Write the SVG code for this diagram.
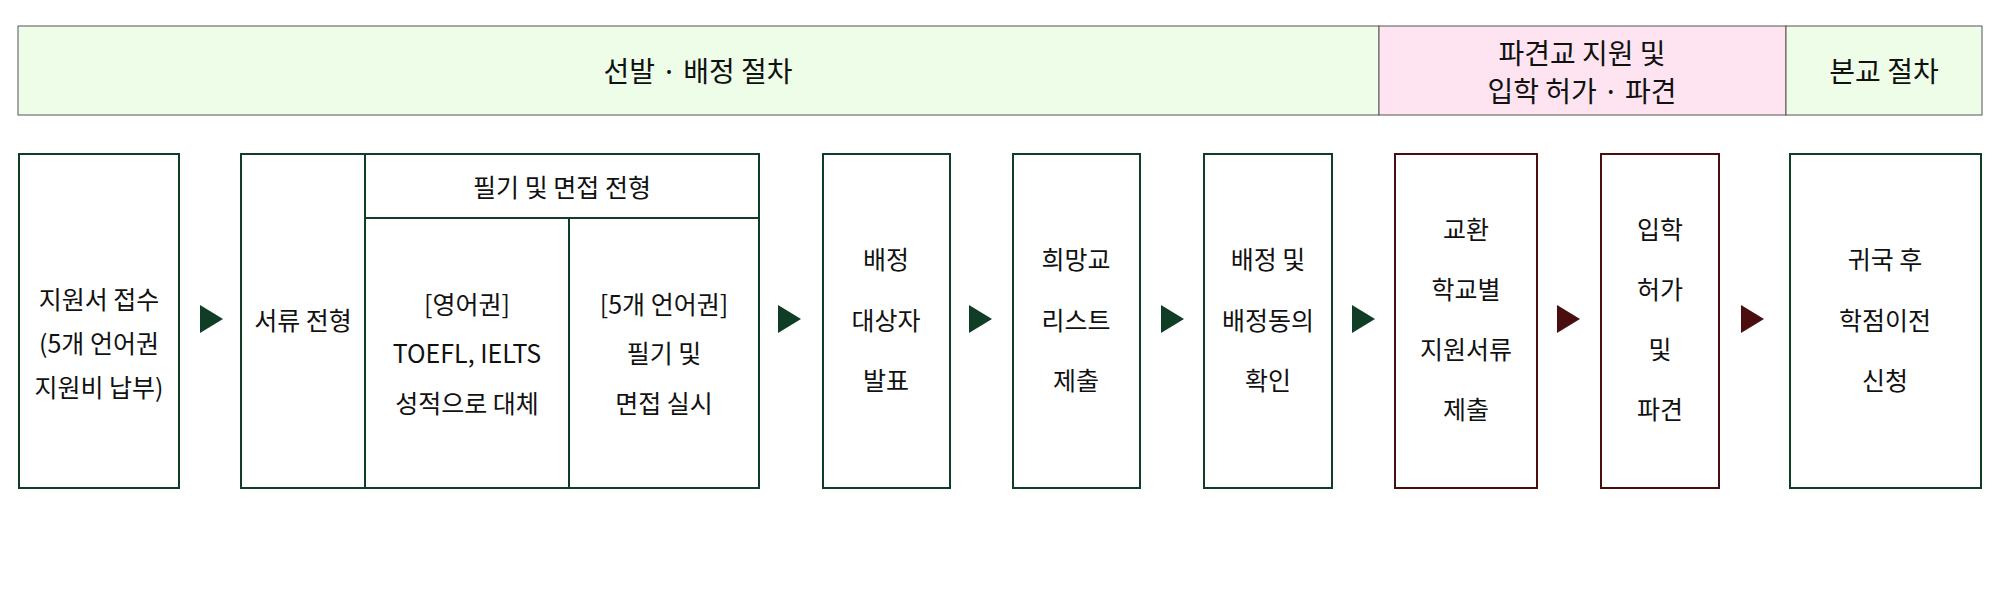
<svg xmlns="http://www.w3.org/2000/svg" width="2000" height="600" viewBox="0 0 2000 600">
<style>
text{font-family:"Noto Sans CJK KR","Noto Sans",sans-serif;font-size:25px;fill:#111;text-anchor:middle;dominant-baseline:central}
.h{font-size:28px}
.g{fill:#fff;stroke:#0f3d26;stroke-width:2}
.r{fill:#fff;stroke:#4a0e0e;stroke-width:2}
</style>
<rect width="2000" height="600" fill="#fff"/>
<g id="header">
<rect x="18" y="26" width="1361" height="89" fill="#edfde8" stroke="#555" stroke-width="1"/>
<rect x="1379" y="26" width="407" height="89" fill="#fde4f0" stroke="#555" stroke-width="1"/>
<rect x="1786" y="26" width="196" height="89" fill="#edfde8" stroke="#555" stroke-width="1"/>
<text class="h" x="698" y="70">선발 · 배정 절차</text>
<text class="h" x="1582" y="52">파견교 지원 및</text>
<text class="h" x="1582" y="90">입학 허가 · 파견</text>
<text class="h" x="1884" y="70">본교 절차</text>
</g>
<g id="n1"><rect class="g" x="19" y="154" width="160" height="334"/>
<text x="99" y="298">지원서 접수</text><text x="99" y="342">(5개 언어권</text><text x="99" y="386">지원비 납부)</text></g>
<g id="n2"><rect class="g" x="241" y="154" width="518" height="334"/>
<line class="g" x1="365" y1="154" x2="365" y2="488"/>
<line class="g" x1="365" y1="218" x2="759" y2="218"/>
<line class="g" x1="569" y1="218" x2="569" y2="488"/>
<text x="303" y="319">서류 전형</text>
<text x="562" y="186">필기 및 면접 전형</text>
<text x="467" y="303">[영어권]</text><text x="467" y="352">TOEFL, IELTS</text><text x="467" y="402">성적으로 대체</text>
<text x="664" y="303">[5개 언어권]</text><text x="664" y="352">필기 및</text><text x="664" y="402">면접 실시</text></g>
<g id="n3"><rect class="g" x="823" y="154" width="127" height="334"/>
<text x="886" y="258">배정</text><text x="886" y="319">대상자</text><text x="886" y="379">발표</text></g>
<g id="n4"><rect class="g" x="1013" y="154" width="127" height="334"/>
<text x="1076" y="258">희망교</text><text x="1076" y="319">리스트</text><text x="1076" y="379">제출</text></g>
<g id="n5"><rect class="g" x="1204" y="154" width="128" height="334"/>
<text x="1268" y="258">배정 및</text><text x="1268" y="319">배정동의</text><text x="1268" y="379">확인</text></g>
<g id="n6"><rect class="r" x="1395" y="154" width="142" height="334"/>
<text x="1466" y="228">교환</text><text x="1466" y="288">학교별</text><text x="1466" y="348">지원서류</text><text x="1466" y="408">제출</text></g>
<g id="n7"><rect class="r" x="1601" y="154" width="118" height="334"/>
<text x="1660" y="228">입학</text><text x="1660" y="288">허가</text><text x="1660" y="348">및</text><text x="1660" y="408">파견</text></g>
<g id="n8"><rect class="g" x="1790" y="154" width="191" height="334"/>
<text x="1885" y="258">귀국 후</text><text x="1885" y="319">학점이전</text><text x="1885" y="379">신청</text></g>
<g id="connectors">
<polygon points="200,305 223,319 200,333" fill="#0f3d26"/>
<polygon points="778,305 801,319 778,333" fill="#0f3d26"/>
<polygon points="969,305 992,319 969,333" fill="#0f3d26"/>
<polygon points="1161,305 1184,319 1161,333" fill="#0f3d26"/>
<polygon points="1352,305 1375,319 1352,333" fill="#0f3d26"/>
<polygon points="1557,305 1580,319 1557,333" fill="#4a0e0e"/>
<polygon points="1741,305 1764,319 1741,333" fill="#4a0e0e"/>
</g>
</svg>
